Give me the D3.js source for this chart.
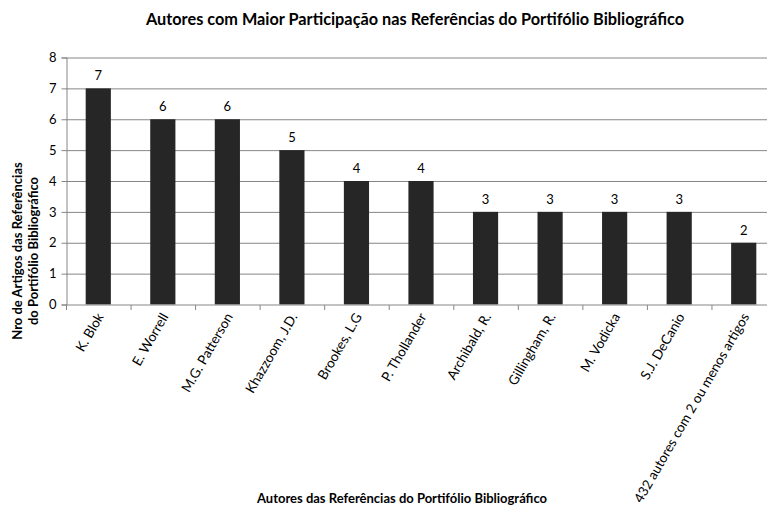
<!DOCTYPE html>
<html>
<head>
<meta charset="utf-8">
<script src="https://cdn.jsdelivr.net/npm/d3@7"></script>
<style>
  body { margin: 0; background: #fff; }
  svg { display: block; font-family: Lato, "Open Sans", sans-serif; }
</style>
</head>
<body>
<div id="chart"></div>
<script>
// data
const authors = ["K. Blok", "E. Worrell", "M.G. Patterson", "Khazzoom, J.D.", "Brookes, L.G",
  "P. Thollander", "Archibald, R.", "Gillingham, R.", "M. Vodicka", "S.J. DeCanio",
  "432 autores com 2 ou menos artigos"];
const articles = [7, 6, 6, 5, 4, 4, 3, 3, 3, 3, 2];
const yTicks = [0, 1, 2, 3, 4, 5, 6, 7, 8];

const width = 767, height = 506;
const margin = { top: 57.5, left: 66, bottom: 506 - 304.5 };
const plotW = 710; // runs a bit past the right edge, like the original

const svg = d3.select("#chart").append("svg")
  .attr("width", width)
  .attr("height", height)
  .style("overflow", "hidden");

const x = d3.scaleBand()
  .domain(authors)
  .range([margin.left, margin.left + plotW])
  .paddingInner(0.61)
  .paddingOuter(0.305);

const y = d3.scaleLinear()
  .domain([0, 8])
  .range([height - margin.bottom, margin.top]);

// gridlines
svg.append("g")
  .selectAll("line")
  .data(yTicks.slice(1))
  .join("line")
  .attr("x1", margin.left)
  .attr("x2", margin.left + plotW)
  .attr("y1", d => y(d) + 0.5)
  .attr("y2", d => y(d) + 0.5)
  .attr("stroke", "#868686")
  .attr("stroke-width", 1);

// bars
svg.append("g")
  .selectAll("rect")
  .data(articles)
  .join("rect")
  .attr("x", (d, i) => x(authors[i]))
  .attr("y", d => y(d))
  .attr("width", x.bandwidth())
  .attr("height", d => y(0) - y(d))
  .attr("fill", "#262626");

// value labels
svg.append("g")
  .selectAll("text")
  .data(articles)
  .join("text")
  .attr("x", (d, i) => x(authors[i]) + x.bandwidth() / 2)
  .attr("y", d => y(d) - 8)
  .attr("text-anchor", "middle")
  .attr("font-size", 13)
  .attr("fill", "#000")
  .text(d => d);

// y axis
const yAxis = svg.append("g")
  .attr("transform", `translate(${margin.left + 0.5},0)`)
  .call(d3.axisLeft(y).tickValues(yTicks).tickSize(5).tickPadding(5));
yAxis.select(".domain").attr("stroke", "#868686");
yAxis.selectAll(".tick line").attr("stroke", "#868686");
yAxis.selectAll("text").attr("font-size", 13).attr("fill", "#000").style("font-family", "Lato, sans-serif");

// x axis: ticks on band boundaries
const xAxisG = svg.append("g")
  .attr("transform", `translate(0,${y(0) + 0.5})`);
xAxisG.append("line")
  .attr("x1", margin.left)
  .attr("x2", margin.left + plotW)
  .attr("stroke", "#868686");
xAxisG.selectAll("line.tk")
  .data(d3.range(authors.length + 1))
  .join("line")
  .attr("class", "tk")
  .attr("x1", i => margin.left + 0.5 + i * x.step())
  .attr("x2", i => margin.left + 0.5 + i * x.step())
  .attr("y1", 0)
  .attr("y2", 5)
  .attr("stroke", "#868686");

// rotated category labels
svg.append("g")
  .selectAll("text")
  .data(authors)
  .join("text")
  .attr("transform", d => `translate(${x(d) + x.bandwidth() / 2 + 6},${y(0) + 12}) rotate(-60)`)
  .attr("text-anchor", "end")
  .attr("font-size", 13.5)
  .attr("fill", "#000")
  .text(d => d);

// title
svg.append("text")
  .attr("x", 415)
  .attr("y", 25)
  .attr("text-anchor", "middle")
  .attr("font-size", 16.3)
  .attr("font-weight", "bold")
  .text("Autores com Maior Participação nas Referências do Portifólio Bibliográfico");

// x axis title
svg.append("text")
  .attr("x", 402)
  .attr("y", 503)
  .attr("text-anchor", "middle")
  .attr("font-size", 13)
  .attr("font-weight", "bold")
  .text("Autores das Referências do Portifólio Bibliográfico");

// y axis title, two lines
const yt = svg.append("text")
  .attr("transform", "translate(22,251) rotate(-90)")
  .attr("text-anchor", "middle")
  .attr("font-size", 13)
  .attr("font-weight", "bold");
yt.append("tspan").attr("x", 0).attr("dy", 0).text("Nro de Artigos das Referências");
yt.append("tspan").attr("x", 0).attr("dy", 16).text("do Portifólio Bibliográfico");
</script>
</body>
</html>
